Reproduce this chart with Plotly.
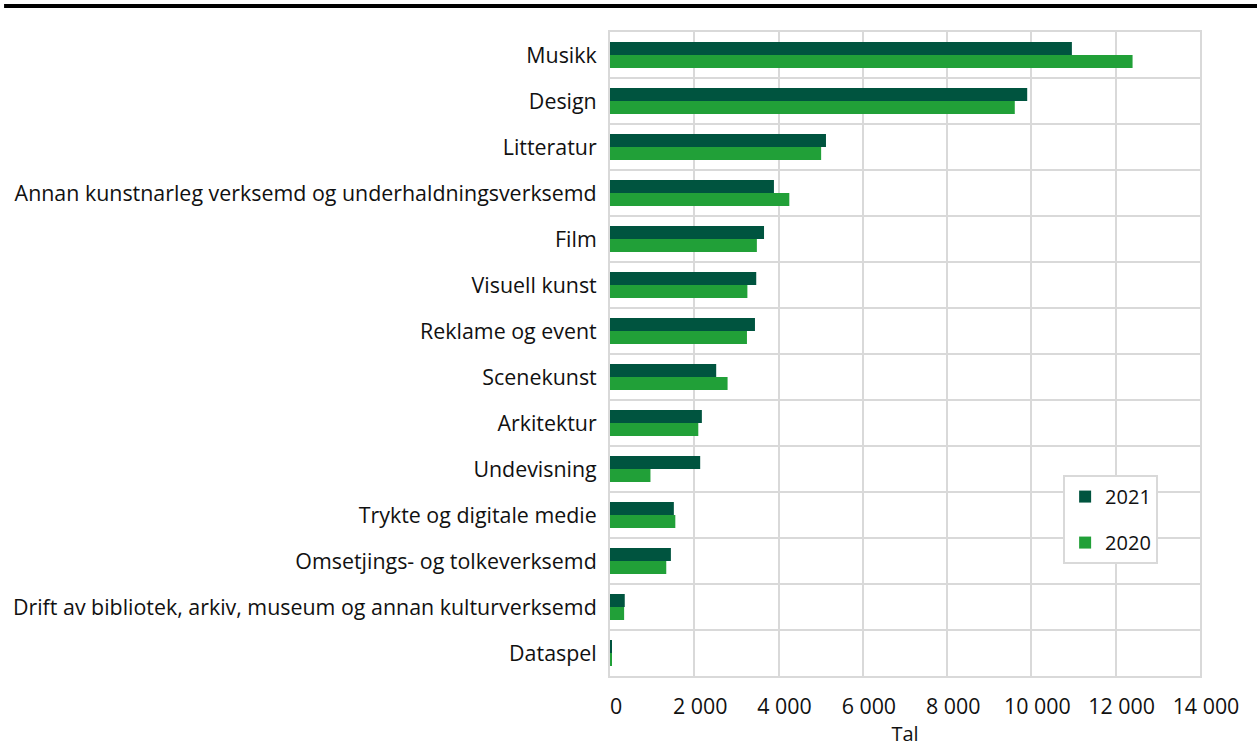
import plotly.graph_objects as go

categories = [
    "Musikk", "Design", "Litteratur",
    "Annan kunstnarleg verksemd og underhaldningsverksemd",
    "Film", "Visuell kunst", "Reklame og event", "Scenekunst",
    "Arkitektur", "Undevisning", "Trykte og digitale medie",
    "Omsetjings- og tolkeverksemd",
    "Drift av bibliotek, arkiv, museum og annan kulturverksemd",
    "Dataspel",
]
values_2021 = [10960, 9900, 5125, 3890, 3655, 3470, 3440, 2520, 2180, 2140, 1515, 1445, 350, 35]
values_2020 = [12400, 9605, 5010, 4255, 3485, 3260, 3250, 2790, 2095, 960, 1550, 1335, 335, 30]
x_ticks = [0, 2000, 4000, 6000, 8000, 10000, 12000, 14000]

FONT = "Open Sans"
GRID = "#d9d9d9"

fig = go.Figure()
fig.add_trace(go.Bar(
    y=categories, x=values_2021, name="2021", orientation="h",
    marker=dict(color="#00543f", line=dict(width=0)), legendgroup="a",
))
fig.add_trace(go.Bar(
    y=categories, x=values_2020, name="2020", orientation="h",
    marker=dict(color="#21a038", line=dict(width=0)), legendgroup="b",
))

fig.update_layout(
    width=1257, height=747,
    margin=dict(l=610, r=57, t=32, b=71),
    paper_bgcolor="white", plot_bgcolor="white",
    font=dict(family=FONT, size=21.4, color="#111111"),
    separators=", ",
    barmode="group", bargap=0.435, bargroupgap=0,
    showlegend=True,
    legend=dict(
        x=0.768, y=0.312, xanchor="left", yanchor="top",
        bordercolor=GRID, borderwidth=2, bgcolor="white",
        traceorder="grouped", tracegroupgap=17,
        font=dict(size=20),
        itemwidth=30,
    ),
    xaxis=dict(
        range=[0, 14000], tickvals=x_ticks, tickformat=",d",
        showgrid=True, gridcolor=GRID, gridwidth=2,
        zeroline=False, showline=True, linecolor=GRID, linewidth=2, mirror=True,
        ticks="", ticklabelstandoff=10, ticklabelshift=6, automargin=False,
        title=dict(text="Tal", standoff=15, font=dict(size=20)),
    ),
    yaxis=dict(
        type="category", categoryorder="array", categoryarray=categories,
        autorange="reversed", tickson="boundaries", automargin=False,
        showgrid=True, gridcolor=GRID, gridwidth=2,
        showline=True, linecolor=GRID, linewidth=2, mirror=True,
        ticks="", ticklabelstandoff=7,
    ),
    shapes=[dict(
        type="line", xref="paper", yref="paper",
        x0=-1.027, x1=1.1, y0=1.0404, y1=1.0404,
        line=dict(color="black", width=4),
    )],
)

fig.write_html(
    "out.html",
    config={"displayModeBar": False},
    post_script="document.body.style.margin='0';",
)
